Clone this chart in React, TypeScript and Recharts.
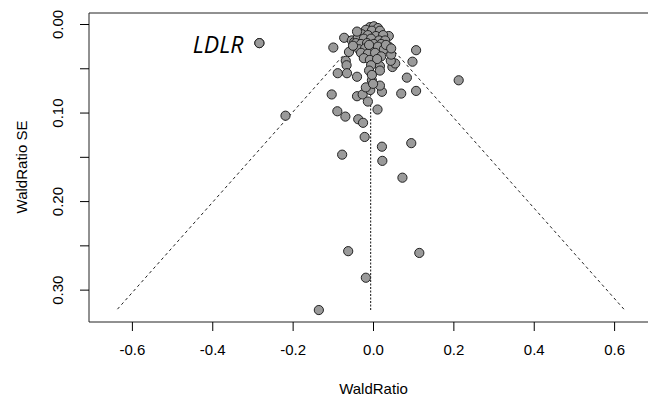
import React from 'react';
import {
  ScatterChart, Scatter, XAxis, YAxis, ReferenceLine, ReferenceArea, ReferenceDot, Label,
} from 'recharts';

// per-SNP Wald ratio estimates and their standard errors
const WALD_RATIO = [
  -0.284, -0.100, -0.073, -0.054, -0.048, -0.061, -0.069, -0.067, -0.089, -0.066,
  -0.041, -0.104, -0.041, -0.027, -0.219, -0.090, -0.070, -0.038, -0.026, -0.022,
  -0.078, 0.021, 0.022, 0.094, 0.072, 0.010, -0.014, 0.021, 0.016, 0.069,
  0.106, 0.083, 0.097, 0.106, 0.047, 0.054, 0.043, 0.044, 0.038, 0.038,
  0.016, 0.016, -0.004, -0.008, -0.019, 0.212, -0.063, 0.114, -0.019, -0.136,
  -0.009, 0.001, 0.011, -0.019, -0.004, 0.016, -0.029, -0.014, 0.006, 0.024,
  -0.039, -0.024, -0.006, 0.014, 0.029, -0.044, -0.031, -0.016, 0.001, 0.019,
  -0.036, -0.021, -0.004, 0.011, 0.026, -0.031, -0.014, 0.004, 0.019, -0.024,
  -0.009, 0.009, -0.006, -0.011, -0.004, -0.001, 0.031, 0.044, -0.051, -0.041,
  -0.011,
];
const WALD_SE = [
  0.021, 0.026, 0.015, 0.018, 0.020, 0.031, 0.041, 0.046, 0.055, 0.055,
  0.059, 0.079, 0.081, 0.079, 0.103, 0.098, 0.104, 0.107, 0.111, 0.127,
  0.147, 0.138, 0.154, 0.134, 0.173, 0.096, 0.087, 0.076, 0.069, 0.078,
  0.075, 0.060, 0.042, 0.029, 0.048, 0.044, 0.041, 0.034, 0.025, 0.013,
  0.047, 0.052, 0.063, 0.074, 0.071, 0.063, 0.256, 0.258, 0.286, 0.3225,
  0.003, 0.002, 0.004, 0.006, 0.007, 0.007, 0.011, 0.012, 0.013, 0.012,
  0.015, 0.016, 0.016, 0.018, 0.018, 0.021, 0.022, 0.021, 0.022, 0.022,
  0.028, 0.027, 0.028, 0.025, 0.028, 0.032, 0.033, 0.032, 0.036, 0.038,
  0.040, 0.039, 0.046, 0.052, 0.057, 0.067, 0.023, 0.027, 0.024, 0.008,
  0.023,
];
const LABELLED_GENE = 'LDLR';
const LABELLED_INDEX = 0;
const IVW_ESTIMATE = -0.007;

const X_TICKS = [-0.6, -0.4, -0.2, 0, 0.2, 0.4, 0.6];
const Y_TICKS = [0, 0.05, 0.1, 0.15, 0.2, 0.25, 0.3];

const X_DOMAIN: [number, number] = [-0.708, 0.708];
const Y_DOMAIN: [number, number] = [-0.013, 0.336];

const FONT = '"Liberation Sans", Arial, Helvetica, sans-serif';

const data = WALD_RATIO.map((x, i) => ({ x, se: WALD_SE[i] }));
const maxSe = Math.max(...WALD_SE);

const XTick = ({ x, y, payload }: any) => (
  <text x={x} y={y + 22} textAnchor="middle" fontSize={15} fontFamily={FONT} fill="#000">
    {payload.value.toFixed(1)}
  </text>
);

const YTick = ({ x, y, payload }: any) => {
  // R drops the labels that would collide, only every 0.10 is printed
  if (Math.round(payload.value * 100) % 10 !== 0) return null;
  const tx = x - 14.5;
  return (
    <text x={tx} y={y} transform={`rotate(-90, ${tx}, ${y})`} textAnchor="middle"
      fontSize={15} fontFamily={FONT} fill="#000">
      {payload.value.toFixed(2)}
    </text>
  );
};

const Dot = ({ cx, cy }: any) => (
  <circle cx={cx} cy={cy} r={4.6} fill="#9a9a9a" stroke="#222" strokeWidth={1} />
);

export default function App() {
  const lbl = data[LABELLED_INDEX];
  return (
    <div style={{ position: 'absolute', left: 0, top: 0, width: 648, height: 398, overflow: 'hidden', background: '#fff' }}>
      <ScatterChart width={680} height={398} margin={{ top: 13, right: 22, bottom: 36, left: 29 }}>
        <XAxis type="number" dataKey="x" domain={X_DOMAIN} ticks={X_TICKS} allowDataOverflow
          axisLine={false} tickSize={9} tickLine={{ stroke: '#000' }} tick={<XTick />} height={40}>
          <Label content={() => (
            <text x={373.5} y={394} textAnchor="middle" fontSize={15} fontFamily={FONT} fill="#000">WaldRatio</text>
          )} />
        </XAxis>
        <YAxis type="number" dataKey="se" domain={Y_DOMAIN} ticks={Y_TICKS} reversed allowDataOverflow
          axisLine={false} tickSize={9} tickLine={{ stroke: '#000' }} tick={<YTick />} width={60}>
          <Label content={() => (
            <text x={27} y={167} transform="rotate(-90, 27, 167)" textAnchor="middle" fontSize={15}
              fontFamily={FONT} fill="#000">WaldRatio SE</text>
          )} />
        </YAxis>
        <ReferenceArea x1={X_DOMAIN[0]} x2={X_DOMAIN[1]} y1={Y_DOMAIN[0]} y2={Y_DOMAIN[1]}
          fill="none" stroke="#222" strokeWidth={1} ifOverflow="visible" />
        <ReferenceLine segment={[{ x: IVW_ESTIMATE, y: 0 }, { x: IVW_ESTIMATE - 1.96 * maxSe, y: maxSe }]}
          stroke="#222" strokeDasharray="3 3" />
        <ReferenceLine segment={[{ x: IVW_ESTIMATE, y: 0 }, { x: IVW_ESTIMATE + 1.96 * maxSe, y: maxSe }]}
          stroke="#222" strokeDasharray="3 3" />
        <ReferenceLine segment={[{ x: IVW_ESTIMATE, y: 0 }, { x: IVW_ESTIMATE, y: maxSe }]}
          stroke="#111" strokeDasharray="2 1.5" />
        <Scatter data={data} shape={<Dot />} isAnimationActive={false} />
        <ReferenceDot x={lbl.x} y={lbl.se} r={4.6} fill="#9a9a9a" stroke="#222" strokeWidth={1}
          label={(p: any) => {
            const cx = p.viewBox.x + p.viewBox.width / 2;
            const cy = p.viewBox.y + p.viewBox.height / 2;
            return (
              <text x={cx - 16} y={cy + 9.5} textAnchor="end" fontSize={23} fontStyle="italic"
                fontFamily='"Open Sans", "Noto Sans", sans-serif' fill="#000">{LABELLED_GENE}</text>
            );
          }} />
      </ScatterChart>
    </div>
  );
}
